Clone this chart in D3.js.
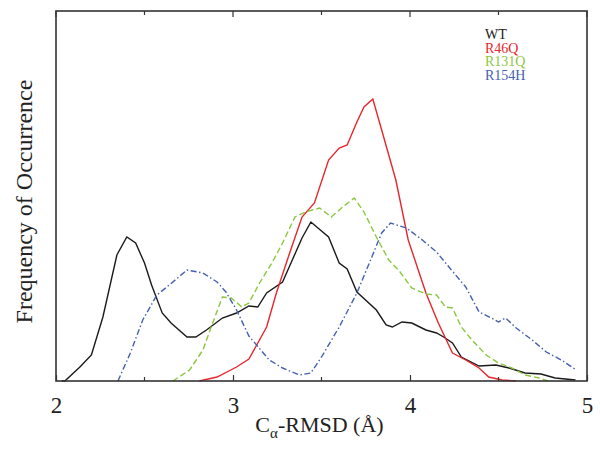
<!DOCTYPE html>
<html><head><meta charset="utf-8">
<script src="https://cdn.jsdelivr.net/npm/d3@7"></script>
<style>body{margin:0;background:#fff}svg{display:block}</style>
</head><body><svg id="c" width="600" height="450"></svg>
<script>
const seriesNames = ["WT", "R46Q", "R131Q", "R154H"];
const seriesColors = ["#1a1a1a", "#e8262d", "#8dc63f", "#4660b0"];
const seriesDash = [null, null, "6,3", "6,2.5,1.5,2.5"];
const xTicks = [2, 3, 4, 5];
const xMinorTicks = [2.5, 3.5, 4.5];

const wtX = [2.034,2.05,2.135,2.20,2.265,2.344,2.40,2.45,2.50,2.54,2.60,2.65,2.74,2.79,2.85,2.94,3.02,3.09,3.14,3.19,3.28,3.335,3.39,3.44,3.54,3.60,3.645,3.70,3.81,3.865,3.90,3.955,4.01,4.09,4.15,4.19,4.24,4.29,4.39,4.485,4.56,4.65,4.74,4.82,4.935];
const wtY = [0,0,0.14,0.26,0.64,1.26,1.44,1.38,1.18,0.96,0.68,0.58,0.44,0.44,0.51,0.63,0.68,0.75,0.74,0.88,0.99,1.21,1.43,1.59,1.44,1.18,1.12,0.89,0.71,0.56,0.54,0.59,0.58,0.51,0.48,0.44,0.38,0.24,0.15,0.16,0.13,0.08,0.07,0.03,0.01];

const r46qX = [2.81,2.91,3.02,3.09,3.19,3.245,3.32,3.39,3.46,3.54,3.60,3.645,3.70,3.74,3.79,3.84,3.92,3.99,4.09,4.16,4.24,4.315,4.39,4.445,4.52,4.60];
const r46qY = [0,0.04,0.14,0.22,0.54,0.88,1.28,1.64,1.78,2.21,2.33,2.36,2.59,2.74,2.82,2.51,2.01,1.41,0.88,0.58,0.28,0.21,0.13,0.04,0.01,0];

const r131qX = [2.66,2.755,2.83,2.885,2.94,2.99,3.05,3.09,3.15,3.22,3.28,3.35,3.41,3.49,3.555,3.62,3.685,3.74,3.81,3.88,3.94,4.01,4.09,4.15,4.20,4.24,4.29,4.35,4.43,4.50,4.575,4.65,4.73,4.78];
const r131qY = [0,0.11,0.31,0.58,0.84,0.83,0.74,0.78,0.98,1.18,1.38,1.64,1.69,1.73,1.64,1.74,1.83,1.69,1.44,1.21,1.10,0.93,0.87,0.86,0.74,0.73,0.54,0.41,0.26,0.18,0.13,0.06,0.03,0];

const r154hX = [2.35,2.42,2.49,2.57,2.64,2.74,2.83,2.91,2.96,3.02,3.09,3.205,3.28,3.375,3.44,3.50,3.60,3.70,3.77,3.84,3.89,3.98,4.07,4.15,4.22,4.315,4.39,4.46,4.50,4.54,4.60,4.69,4.77,4.855,4.94];
const r154hY = [0,0.28,0.61,0.86,0.96,1.11,1.08,0.99,0.89,0.71,0.45,0.21,0.13,0.06,0.08,0.24,0.54,0.88,1.18,1.48,1.58,1.53,1.41,1.29,1.14,0.94,0.69,0.63,0.59,0.63,0.53,0.41,0.29,0.21,0.11];

const seriesX = [wtX, r46qX, r131qX, r154hX];
const seriesY = [wtY, r46qY, r131qY, r154hY];

const svg = d3.select("#c");
const L = 56, R = 587, T = 11, B = 381;
const x = d3.scaleLinear().domain([2, 5]).range([L, R]);
const y = d3.scaleLinear().domain([0, 3.70]).range([B, T]);
const font = "'Liberation Serif','Times New Roman',serif";

const line = d3.line().x(d => x(d[0])).y(d => y(d[1]));
seriesNames.forEach((n, i) => {
  const pts = seriesX[i].map((v, j) => [v, seriesY[i][j]]);
  svg.append("path").datum(pts).attr("d", line)
    .attr("fill", "none").attr("stroke", seriesColors[i]).attr("stroke-width", 1.4)
    .attr("stroke-dasharray", seriesDash[i]);
});

// ticks (inward) bottom and top
const gb = svg.append("g").attr("transform", `translate(0,${B})`);
gb.call(d3.axisBottom(x).tickValues(xTicks).tickSize(-6).tickPadding(16).tickFormat(d3.format("d")));
gb.selectAll(".tick text").attr("font-family", font).attr("font-size", 23).attr("fill", "#222");
gb.select(".domain").remove();
gb.selectAll(".tick line").attr("stroke", "#333").attr("stroke-width", 1.2);
gb.selectAll(".minor").data(xMinorTicks).enter().append("line")
  .attr("x1", d => x(d)).attr("x2", d => x(d)).attr("y1", 0).attr("y2", -4)
  .attr("stroke", "#333").attr("stroke-width", 1.2);

const gt = svg.append("g").attr("transform", `translate(0,${T})`);
gt.selectAll(".tk").data(xTicks.concat(xMinorTicks)).enter().append("line")
  .attr("x1", d => x(d)).attr("x2", d => x(d)).attr("y1", 0).attr("y2", d => xTicks.includes(d) ? 6 : 4)
  .attr("stroke", "#333").attr("stroke-width", 1.2);

// frame
svg.append("rect").attr("x", L).attr("y", T).attr("width", R - L).attr("height", B - T)
  .attr("fill", "none").attr("stroke", "#333").attr("stroke-width", 1.6);

// axis labels
const xl = svg.append("text").attr("x", (L + R) / 2 - 2).attr("y", 432)
  .attr("text-anchor", "middle").attr("font-family", font).attr("font-size", 22).attr("fill", "#222");
xl.append("tspan").text("C");
xl.append("tspan").text("α").attr("font-size", 15).attr("dy", 6);
xl.append("tspan").text("-RMSD (Å)").attr("dy", -6);

svg.append("text").attr("transform", `translate(32,201.5) rotate(-90)`)
  .attr("text-anchor", "middle").attr("font-family", font).attr("font-size", 24).attr("fill", "#222")
  .text("Frequency of Occurrence");

// legend
seriesNames.forEach((n, i) => {
  svg.append("text").attr("x", 485).attr("y", 39 + i * 13.6)
    .attr("font-family", font).attr("font-size", 14).attr("fill", seriesColors[i]).text(n);
});
</script></body></html>
